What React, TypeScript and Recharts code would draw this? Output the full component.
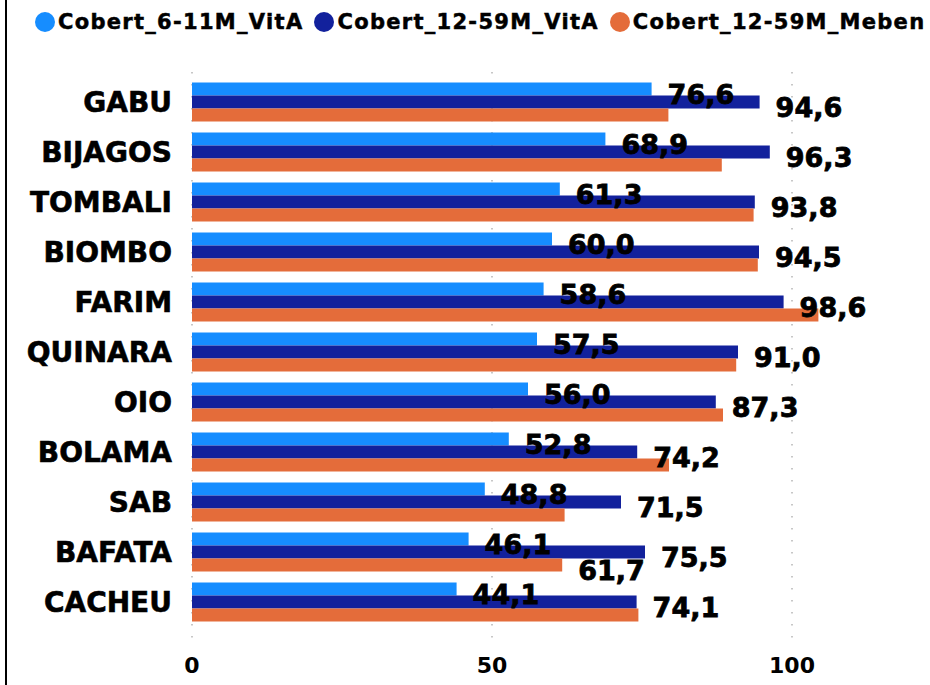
import React from 'react';
import { BarChart, Bar, XAxis, YAxis, CartesianGrid, LabelList } from 'recharts';

const regions = ['GABU', 'BIJAGOS', 'TOMBALI', 'BIOMBO', 'FARIM', 'QUINARA', 'OIO', 'BOLAMA', 'SAB', 'BAFATA', 'CACHEU'];
const vitA611 = [76.6, 68.9, 61.3, 60.0, 58.6, 57.5, 56.0, 52.8, 48.8, 46.1, 44.1];
const vitA1259 = [94.6, 96.3, 93.8, 94.5, 98.6, 91.0, 87.3, 74.2, 71.5, 75.5, 74.1];
const meben1259 = [79.4, 88.3, 93.6, 94.3, 104.4, 90.7, 88.5, 79.5, 62.1, 61.7, 74.4];
const xTicks = [0, 50, 100];
const X_MAX = 120;

const FONT = '"DejaVu Sans", Arial, sans-serif';
// a value label is about 11 units wide on this scale; the orange label is dropped
// when it would run into the dark blue label of its row or the light blue label of the next row
const LABEL_SPAN = 11;
const showMeben = (i: number) => {
  const m = meben1259[i];
  if (m + LABEL_SPAN >= vitA1259[i]) return false;
  const next = vitA611[i + 1];
  if (next !== undefined && m < next + LABEL_SPAN && m + LABEL_SPAN > next) return false;
  return true;
};

const series = [
  { key: 'vitA611', name: 'Cobert_6-11M_VitA', color: '#168dff' },
  { key: 'vitA1259', name: 'Cobert_12-59M_VitA', color: '#12219c' },
  { key: 'meben1259', name: 'Cobert_12-59M_Meben', color: '#e46c3a' },
];

const data = regions.map((name, i) => ({
  name,
  vitA611: vitA611[i],
  vitA1259: vitA1259[i],
  meben1259: meben1259[i],
}));

const fmt = (v: number) => v.toFixed(1).replace('.', ',');

const makeLabel = (show: (i: number) => boolean) => (props: any) => {
  const { x, y, width, height, value, index } = props;
  if (!show(index)) return null;
  return (
    <text
      x={Number(x) + Number(width) + 16}
      y={Number(y) + Number(height) / 2 + 5}
      dominantBaseline="central"
      fontFamily={FONT}
      fontWeight="bold"
      fontSize={27}
      fill="#000"
      stroke="#000"
      strokeWidth={0.8}
    >
      {fmt(Number(value))}
    </text>
  );
};

const labelFor: Record<string, (props: any) => React.ReactElement | null> = {
  vitA611: makeLabel(() => true),
  vitA1259: makeLabel(() => true),
  meben1259: makeLabel(showMeben),
};

function LegendRow() {
  return (
    <div
      style={{
        position: 'absolute',
        left: 35,
        top: 10,
        display: 'flex',
        alignItems: 'center',
        gap: 11,
        fontFamily: FONT,
        fontWeight: 'bold',
        fontSize: 21,
        letterSpacing: 1.3,
        color: '#000',
        whiteSpace: 'nowrap',
        WebkitTextStroke: '0.5px #000',
      }}
    >
      {series.map((s) => (
        <div key={s.key} style={{ display: 'flex', alignItems: 'center', gap: 3 }}>
          <span
            style={{ width: 20, height: 20, borderRadius: '50%', background: s.color, display: 'inline-block' }}
          />
          <span>{s.name}</span>
        </div>
      ))}
    </div>
  );
}

// vertical gridlines only at the shown ticks (the default also adds one at the right edge)
const gridAtTicks = ({ offset }: any) =>
  xTicks.map((t) => offset.left + (offset.width * t) / X_MAX);

export default function App() {
  return (
    <div style={{ position: 'absolute', left: 0, top: 0, width: 930, height: 685, background: '#fff', overflow: 'hidden' }}>
      <div style={{ position: 'absolute', left: 5, top: 0, width: 2, height: 685, background: '#000' }} />
      <LegendRow />
      <BarChart
        width={930}
        height={685}
        data={data}
        layout="vertical"
        margin={{ top: 72, right: 18, bottom: 10, left: 0 }}
        barCategoryGap="11%"
        barGap={0}
      >
        <CartesianGrid
          horizontal={false}
          stroke="#b5b5b5"
          strokeWidth={1.5}
          strokeDasharray="1.5 10.5"
          verticalCoordinatesGenerator={gridAtTicks}
        />
        <XAxis
          type="number"
          domain={[0, X_MAX]}
          ticks={xTicks}
          axisLine={false}
          tickLine={false}
          tickMargin={6}
          height={30}
          tick={{ fontSize: 22, fontWeight: 'bold', fill: '#000', fontFamily: FONT }}
        />
        <YAxis
          type="category"
          dataKey="name"
          width={192}
          axisLine={false}
          tickLine={false}
          tickMargin={14}
          interval={0}
          padding={{ top: 5, bottom: 18 }}
          tick={{ fontSize: 28, fontWeight: 'bold', fill: '#000', fontFamily: FONT, stroke: '#000', strokeWidth: 0.6 }}
        />
        {series.map((s) => (
          <Bar key={s.key} dataKey={s.key} name={s.name} fill={s.color} isAnimationActive={false}>
            <LabelList dataKey={s.key} content={labelFor[s.key]} />
          </Bar>
        ))}
      </BarChart>
    </div>
  );
}
